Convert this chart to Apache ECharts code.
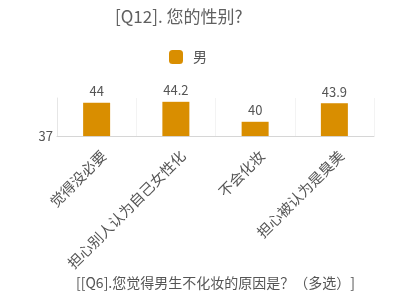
<!DOCTYPE html>
<html>
<head>
<meta charset="utf-8">
<script src="https://cdn.jsdelivr.net/npm/echarts@6/dist/echarts.min.js"></script>
<style>
html,body{margin:0;padding:0;background:#fff;}
#main{width:395px;height:291px;}
</style>
</head>
<body>
<div id="main"></div>
<script>
var titleText = '[Q12]. 您的性别?';
var seriesName = '男';
var categories = ['觉得没必要', '担心别人认为自己女性化', '不会化妆', '担心被认为是臭美'];
var values = [44, 44.2, 40, 43.9];
var xAxisName = '[[Q6].您觉得男生不化妆的原因是？（多选）]';
var yMin = 37;
var yMax = 45;

var font = '"Noto Sans CJK SC", "Noto Sans", sans-serif';
var chart = echarts.init(document.getElementById('main'));
chart.setOption({
  animation: false,
  backgroundColor: '#fff',
  textStyle: { fontFamily: font },
  title: {
    text: titleText,
    left: 110,
    top: 3,
    textStyle: { fontFamily: font, fontSize: 17, fontWeight: 'normal', color: '#606060' }
  },
  legend: {
    data: [seriesName],
    left: 164,
    top: 45,
    itemWidth: 14,
    itemHeight: 14,
    itemGap: 10,
    textStyle: { fontFamily: font, fontSize: 14, color: '#555', padding: [0, 0, 0, 5] }
  },
  grid: { left: 57, right: 21, top: 98, bottom: 153 },
  xAxis: {
    type: 'category',
    data: categories,
    name: xAxisName,
    nameLocation: 'middle',
    nameGap: 139,
    nameTextStyle: { fontFamily: font, fontSize: 14, color: '#555' },
    axisLine: { lineStyle: { color: '#d6d6d6' } },
    axisTick: { show: false },
    splitLine: { show: true, lineStyle: { color: '#f3f3f3' } },
    axisLabel: {
      rotate: 45, interval: 0, fontSize: 14.5, color: '#555', margin: 10,
      verticalAlign: 'top', lineHeight: 20, fontFamily: font
    }
  },
  yAxis: {
    type: 'value',
    min: yMin,
    max: yMax,
    interval: yMax - yMin,
    axisLine: { show: true, lineStyle: { color: '#e6e6e6' } },
    axisTick: { show: false },
    splitLine: { show: false },
    axisLabel: {
      fontSize: 13, color: '#555', margin: 4, fontFamily: font,
      formatter: function (v) { return v === yMin ? String(v) : ''; }
    }
  },
  series: [{
    name: seriesName,
    type: 'bar',
    data: values,
    barWidth: 27,
    itemStyle: { color: '#D98E00' },
    label: { show: true, position: 'top', fontSize: 13, color: '#555', distance: 5, fontFamily: font }
  }]
});
</script>
</body>
</html>
